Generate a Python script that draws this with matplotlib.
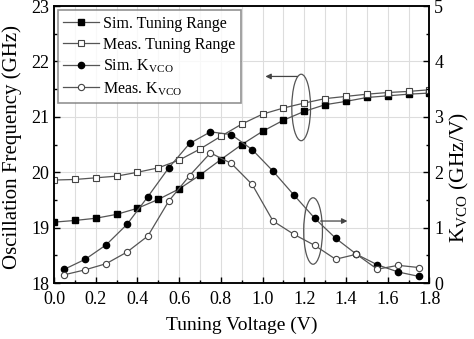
import numpy as np
import matplotlib.pyplot as plt
from matplotlib.patches import Ellipse

plt.rcParams['font.family'] = ['Liberation Serif', 'DejaVu Serif']
plt.rcParams['mathtext.fontset'] = 'custom'
plt.rcParams['mathtext.rm'] = 'Liberation Serif'

# tuning range (GHz) vs tuning voltage
v_tr = [0.0, 0.1, 0.2, 0.3, 0.4, 0.5, 0.6, 0.7, 0.8, 0.9,
        1.0, 1.1, 1.2, 1.3, 1.4, 1.5, 1.6, 1.7, 1.8]
sim_tr = [19.10, 19.13, 19.17, 19.24, 19.35, 19.51, 19.70, 19.95, 20.23, 20.50,
          20.74, 20.94, 21.10, 21.22, 21.28, 21.35, 21.38, 21.41, 21.43]
meas_tr = [19.86, 19.87, 19.90, 19.93, 20.00, 20.08, 20.22, 20.42, 20.65, 20.87,
           21.05, 21.16, 21.25, 21.33, 21.37, 21.41, 21.44, 21.46, 21.49]

# VCO gain (GHz/V)
v_k = [0.05, 0.15, 0.25, 0.35, 0.45, 0.55, 0.65, 0.75, 0.85,
       0.95, 1.05, 1.15, 1.25, 1.35, 1.45, 1.55, 1.65, 1.75]
sim_k = [0.25, 0.43, 0.69, 1.06, 1.56, 2.08, 2.52, 2.73, 2.68,
         2.41, 2.02, 1.59, 1.17, 0.81, 0.52, 0.33, 0.20, 0.12]
meas_k = [0.15, 0.24, 0.35, 0.56, 0.85, 1.48, 1.94, 2.35, 2.16,
          1.78, 1.12, 0.88, 0.68, 0.43, 0.52, 0.25, 0.32, 0.28]

fig = plt.figure(figsize=(4.74, 3.39), dpi=100)
ax = fig.add_axes([0.114, 0.165, 0.792, 0.817])
ax2 = ax.twinx()

lc = '#555555'
l1, = ax.plot(v_tr, sim_tr, '-s', color=lc, lw=0.9, ms=4,
              mfc='black', mec='black', label='Sim. Tuning Range')
l2, = ax.plot(v_tr, meas_tr, '-s', color=lc, lw=0.9, ms=4,
              mfc='white', mec='#444444', mew=0.8, label='Meas. Tuning Range')
l3, = ax2.plot(v_k, sim_k, '-o', color=lc, lw=0.9, ms=4.5,
               mfc='black', mec='black', label=r'Sim. K$_{\mathrm{VCO}}$')
l4, = ax2.plot(v_k, meas_k, '-o', color=lc, lw=0.9, ms=4.5,
               mfc='white', mec='#444444', mew=0.8, label=r'Meas. K$_{\mathrm{VCO}}$')

ax.set_xlim(0, 1.8)
ax.set_ylim(18, 23)
ax2.set_ylim(0, 5)
ax.set_xticks(np.arange(0, 1.81, 0.2))
ax.set_xticks(np.arange(0, 1.81, 0.1), minor=True)
ax.set_yticks(np.arange(18, 23.1, 1))
ax.set_yticks(np.arange(18, 23.1, 0.5), minor=True)
ax2.set_yticks(np.arange(0, 5.1, 1))
ax2.set_yticks(np.arange(0, 5.1, 0.5), minor=True)

ax.grid(True, which='both', axis='x', color='#dddddd', lw=0.8)
ax.grid(True, which='major', axis='y', color='#dddddd', lw=0.8)
ax.set_axisbelow(True)

for a in (ax, ax2):
    a.tick_params(which='both', direction='in', labelsize=13, width=1)
    a.tick_params(which='major', length=4)
    a.tick_params(which='minor', length=2.5)
    for s in a.spines.values():
        s.set_linewidth(1.1)
ax.tick_params(axis='x', pad=6)
ax.set_xticklabels(['%.1f' % t for t in np.arange(0, 1.81, 0.2)])

ax.set_xlabel('Tuning Voltage (V)', fontsize=14, labelpad=6)
ax.set_ylabel('Oscillation Frequency (GHz)', fontsize=15)
ax.yaxis.set_label_coords(-0.085, 0.49)
ax2.set_ylabel(r'K$_{\mathrm{VCO}}$ (GHz/V)', fontsize=15.5)
ax2.yaxis.set_label_coords(1.05, 0.38)

leg = ax.legend(handles=[l1, l2, l3, l4], loc='upper left', fontsize=11.5,
                frameon=True, fancybox=False, edgecolor='#777777',
                bbox_to_anchor=(0.01, 0.985), borderaxespad=0,
                handlelength=2.2, handletextpad=0.3, labelspacing=0.3,
                borderpad=0.35)
leg.get_frame().set_linewidth(1.2)

# ellipse + arrow marking the frequency curves (left axis)
ax.add_patch(Ellipse((1.185, 21.17), 0.09, 1.2, fill=False, ec='#555555', lw=0.9))
ax.annotate('', xy=(1.0, 21.73), xytext=(1.18, 21.73),
            arrowprops=dict(arrowstyle='-|>', color='#444444', lw=0.9,
                            mutation_scale=8))

# ellipse + arrow marking the gain curves (right axis)
ax2.add_patch(Ellipse((1.242, 0.94), 0.09, 1.2, fill=False, ec='#555555', lw=0.9))
ax2.annotate('', xy=(1.42, 1.12), xytext=(1.265, 1.12),
             arrowprops=dict(arrowstyle='-|>', color='#444444', lw=0.9,
                             mutation_scale=8))

plt.savefig('out.png', dpi=100)
